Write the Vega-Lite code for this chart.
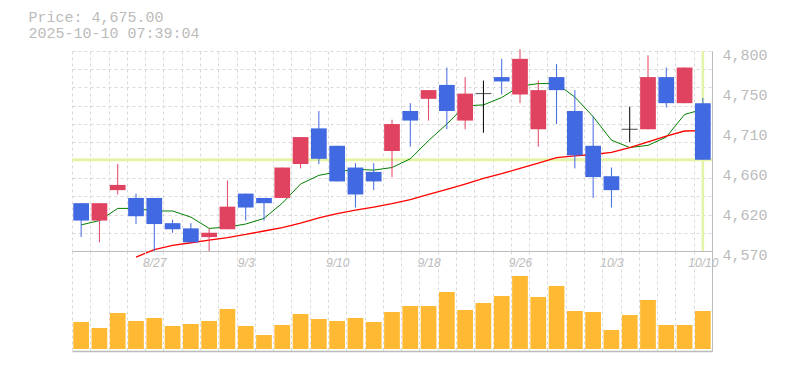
{
  "$schema": "https://vega.github.io/schema/vega-lite/v6.json",
  "padding": {"left": 28, "top": 10, "right": 5, "bottom": 5},
  "bounds": "flush",
  "spacing": 0,
  "background": "white",
  "config": {"view": {"stroke": null}},
  "title": {
    "text": "Price: 4,675.00",
    "subtitle": "2025-10-10 07:39:04",
    "anchor": "start",
    "dx": -42,
    "font": "Liberation Mono",
    "fontSize": 15,
    "fontWeight": "normal",
    "color": "#bbbbbb",
    "subtitleFont": "Liberation Mono",
    "subtitleFontSize": 15,
    "subtitleColor": "#bbbbbb",
    "subtitlePadding": 1,
    "offset": 6
  },
  "datasets": {
    "candles": [
      {"date": "8/21", "open": 4625, "high": 4625, "low": 4586, "close": 4605, "dir": "down", "ma5": 4600, "ma25": null, "vol": 27000},
      {"date": "8/22", "open": 4605, "high": 4625, "low": 4580, "close": 4625, "dir": "up", "ma5": 4605, "ma25": null, "vol": 21000},
      {"date": "8/25", "open": 4640, "high": 4670, "low": 4635, "close": 4646, "dir": "up", "ma5": 4619, "ma25": null, "vol": 36000},
      {"date": "8/26", "open": 4631, "high": 4636, "low": 4601, "close": 4610, "dir": "down", "ma5": 4619, "ma25": 4563, "vol": 28000},
      {"date": "8/27", "open": 4631, "high": 4631, "low": 4570, "close": 4601, "dir": "down", "ma5": 4616, "ma25": 4571.5, "vol": 31000},
      {"date": "8/28", "open": 4602, "high": 4606, "low": 4591, "close": 4595, "dir": "down", "ma5": 4616, "ma25": 4576.5, "vol": 23000},
      {"date": "8/29", "open": 4596, "high": 4602, "low": 4580, "close": 4580, "dir": "down", "ma5": 4609, "ma25": 4579.5, "vol": 25000},
      {"date": "9/1", "open": 4586, "high": 4596, "low": 4570, "close": 4591, "dir": "up", "ma5": 4596, "ma25": 4582.5, "vol": 28000},
      {"date": "9/2", "open": 4595, "high": 4651, "low": 4595, "close": 4621, "dir": "up", "ma5": 4597.5, "ma25": 4585.5, "vol": 40000},
      {"date": "9/3", "open": 4636, "high": 4636, "low": 4605, "close": 4620, "dir": "down", "ma5": 4601, "ma25": 4589, "vol": 23000},
      {"date": "9/4", "open": 4631, "high": 4631, "low": 4605, "close": 4625, "dir": "down", "ma5": 4607.5, "ma25": 4593, "vol": 14000},
      {"date": "9/5", "open": 4631, "high": 4666, "low": 4631, "close": 4666, "dir": "up", "ma5": 4625, "ma25": 4597, "vol": 24000},
      {"date": "9/8", "open": 4670, "high": 4701, "low": 4665, "close": 4701, "dir": "up", "ma5": 4647, "ma25": 4602, "vol": 35000},
      {"date": "9/9", "open": 4711, "high": 4731, "low": 4670, "close": 4676, "dir": "down", "ma5": 4657, "ma25": 4608, "vol": 30000},
      {"date": "9/10", "open": 4691, "high": 4691, "low": 4650, "close": 4650, "dir": "down", "ma5": 4661, "ma25": 4613, "vol": 28000},
      {"date": "9/11", "open": 4666, "high": 4671, "low": 4620, "close": 4635, "dir": "down", "ma5": 4664, "ma25": 4617, "vol": 31000},
      {"date": "9/12", "open": 4661, "high": 4671, "low": 4640, "close": 4650, "dir": "down", "ma5": 4663, "ma25": 4620.5, "vol": 27000},
      {"date": "9/16", "open": 4685, "high": 4721, "low": 4655, "close": 4716, "dir": "up", "ma5": 4666, "ma25": 4624.5, "vol": 37000},
      {"date": "9/17", "open": 4731, "high": 4740, "low": 4690, "close": 4720, "dir": "down", "ma5": 4676, "ma25": 4629, "vol": 43000},
      {"date": "9/18", "open": 4745, "high": 4755, "low": 4720, "close": 4755, "dir": "up", "ma5": 4697, "ma25": 4635, "vol": 43000},
      {"date": "9/19", "open": 4761, "high": 4781, "low": 4710, "close": 4731, "dir": "down", "ma5": 4716, "ma25": 4641, "vol": 57000},
      {"date": "9/22", "open": 4720, "high": 4770, "low": 4710, "close": 4751, "dir": "up", "ma5": 4737, "ma25": 4647, "vol": 39000},
      {"date": "9/24", "open": 4751, "high": 4766, "low": 4706, "close": 4751, "dir": "flat", "ma5": 4738, "ma25": 4653.5, "vol": 46000},
      {"date": "9/25", "open": 4770, "high": 4791, "low": 4750, "close": 4765, "dir": "down", "ma5": 4746.5, "ma25": 4659, "vol": 53000},
      {"date": "9/26", "open": 4750, "high": 4802, "low": 4740, "close": 4791, "dir": "up", "ma5": 4759.5, "ma25": 4665, "vol": 73000},
      {"date": "9/29", "open": 4710, "high": 4766, "low": 4690, "close": 4755, "dir": "up", "ma5": 4762.5, "ma25": 4671, "vol": 52000},
      {"date": "9/30", "open": 4770, "high": 4785, "low": 4716, "close": 4755, "dir": "down", "ma5": 4762.5, "ma25": 4677.5, "vol": 63000},
      {"date": "10/1", "open": 4731, "high": 4755, "low": 4665, "close": 4680, "dir": "down", "ma5": 4747, "ma25": 4679.5, "vol": 38000},
      {"date": "10/2", "open": 4691, "high": 4725, "low": 4631, "close": 4655, "dir": "down", "ma5": 4724.5, "ma25": 4681, "vol": 37000},
      {"date": "10/3", "open": 4656, "high": 4666, "low": 4620, "close": 4640, "dir": "down", "ma5": 4697.5, "ma25": 4683.5, "vol": 19000},
      {"date": "10/6", "open": 4710, "high": 4736, "low": 4695, "close": 4710, "dir": "flat", "ma5": 4689, "ma25": 4689, "vol": 34000},
      {"date": "10/7", "open": 4710, "high": 4795, "low": 4710, "close": 4770, "dir": "up", "ma5": 4691.5, "ma25": 4695.5, "vol": 49000},
      {"date": "10/8", "open": 4770, "high": 4781, "low": 4735, "close": 4740, "dir": "down", "ma5": 4701, "ma25": 4702, "vol": 24000},
      {"date": "10/9", "open": 4740, "high": 4781, "low": 4740, "close": 4781, "dir": "up", "ma5": 4727, "ma25": 4708, "vol": 24000},
      {"date": "10/10", "open": 4740, "high": 4746, "low": 4675, "close": 4675, "dir": "down", "ma5": 4733, "ma25": 4708.5, "vol": 38000}
    ]
  },
  "vconcat": [
    {
      "width": 640,
      "height": 200,
      "data": {"name": "candles"},
      "resolve": {"axis": {"y": "independent"}},
      "layer": [
        {
          "transform": [{"filter": "datum.date == '10/10'"}],
          "mark": {"type": "rule", "color": "#e4f4a6", "strokeWidth": 3},
          "encoding": {
            "y": {"field": "close", "type": "quantitative", "axis": null}
          }
        },
        {
          "transform": [{"filter": "datum.date == '10/10'"}],
          "mark": {"type": "rule", "color": "#e4f4a6", "strokeWidth": 2.5},
          "encoding": {
            "x": {
              "field": "date", "type": "ordinal",
              "scale": {
                "domain": ["8/21","8/22","8/25","8/26","8/27","8/28","8/29","9/1","9/2","9/3","9/4","9/5","9/8","9/9","9/10","9/11","9/12","9/16","9/17","9/18","9/19","9/22","9/24","9/25","9/26","9/29","9/30","10/1","10/2","10/3","10/6","10/7","10/8","10/9","10/10"],
                "paddingInner": 0, "paddingOuter": 0
              },
              "axis": {
                "orient": "bottom",
                "tickBand": "extent",
                "grid": true,
                "gridColor": "#d9d9d9",
                "gridDash": [3, 3],
                "ticks": false,
                "domain": true,
                "domainColor": "#bbbbbb",
                "labelExpr": "indexof(['8/27','9/3','9/10','9/18','9/26','10/3','10/10'], datum.value) >= 0 ? datum.value : ''",
                "labelAngle": 0,
                "labelPadding": 6,
                "labelFont": "Liberation Sans",
                "labelFontStyle": "italic",
                "labelFontSize": 12,
                "labelColor": "#bbbbbb",
                "labelOverlap": false,
                "title": null
              }
            }
          }
        },
        {
          "mark": {"type": "line", "color": "#008000", "strokeWidth": 1},
          "encoding": {
            "x": {"field": "date", "type": "ordinal"},
            "y": {"field": "ma5", "type": "quantitative", "axis": null}
          }
        },
        {
          "mark": {"type": "line", "color": "#ff0000", "strokeWidth": 1.3},
          "encoding": {
            "x": {"field": "date", "type": "ordinal"},
            "y": {"field": "ma25", "type": "quantitative", "axis": null}
          }
        },
        {
          "mark": {"type": "rule", "strokeWidth": 1},
          "encoding": {
            "x": {"field": "date", "type": "ordinal"},
            "y": {
              "field": "low", "type": "quantitative",
              "axis": {
                "orient": "right",
                "values": [4570, 4616, 4662, 4708, 4754, 4800],
                "labelExpr": "format(round(datum.value / 10) * 10, ',')",
                "grid": false,
                "ticks": false,
                "domain": true,
                "domainColor": "#bbbbbb",
                "labelPadding": 10,
                "labelFont": "Liberation Mono",
                "labelFontSize": 15,
                "labelColor": "#bbbbbb",
                "labelOffset": 3,
                "labelFlush": false,
                "labelOverlap": false,
                "title": null
              }
            },
            "y2": {"field": "high"},
            "color": {
              "field": "dir", "type": "nominal",
              "scale": {"domain": ["up", "down", "flat"], "range": ["#e0435f", "#4169e1", "#000000"]},
              "legend": null
            }
          }
        },
        {
          "mark": {"type": "bar", "width": {"band": 0.86}},
          "encoding": {
            "x": {"field": "date", "type": "ordinal"},
            "y": {
              "field": "open", "type": "quantitative",
              "scale": {"domain": [4570, 4800], "nice": false, "zero": false},
              "axis": {
                "orient": "left",
                "values": [4570, 4590.909, 4611.818, 4632.727, 4653.636, 4674.545, 4695.455, 4716.364, 4737.273, 4758.182, 4779.091, 4800],
                "grid": true,
                "gridColor": "#d9d9d9",
                "gridDash": [3, 3],
                "labels": false,
                "ticks": false,
                "domain": false,
                "minExtent": 0,
                "maxExtent": 0,
                "title": null
              }
            },
            "y2": {"field": "close"},
            "color": {"field": "dir", "type": "nominal", "legend": null}
          }
        },
        {
          "transform": [{"filter": "datum.dir == 'flat'"}],
          "mark": {"type": "tick", "color": "#000000", "size": 16, "thickness": 1},
          "encoding": {
            "x": {"field": "date", "type": "ordinal"},
            "y": {"field": "close", "type": "quantitative", "axis": null}
          }
        }
      ]
    },
    {
      "width": 640,
      "height": 100,
      "data": {"name": "candles"},
      "mark": {"type": "bar", "color": "#ffb933", "width": {"band": 0.86}},
      "encoding": {
        "x": {
          "field": "date", "type": "ordinal", "sort": null,
          "scale": {"paddingInner": 0, "paddingOuter": 0},
          "axis": {
            "orient": "bottom",
            "tickBand": "extent",
            "grid": true,
            "gridColor": "#d9d9d9",
            "gridDash": [3, 3],
            "ticks": false,
            "labels": false,
            "domain": true,
            "domainColor": "#bbbbbb",
            "domainWidth": 1.5,
            "title": null
          }
        },
        "y": {
          "field": "vol", "type": "quantitative",
          "scale": {"domain": [-2000, 98000], "nice": false, "zero": false},
          "axis": {
            "orient": "right",
            "grid": false,
            "labels": false,
            "ticks": false,
            "domain": true,
            "domainColor": "#bbbbbb",
            "minExtent": 0,
            "title": null
          }
        }
      }
    }
  ]
}
